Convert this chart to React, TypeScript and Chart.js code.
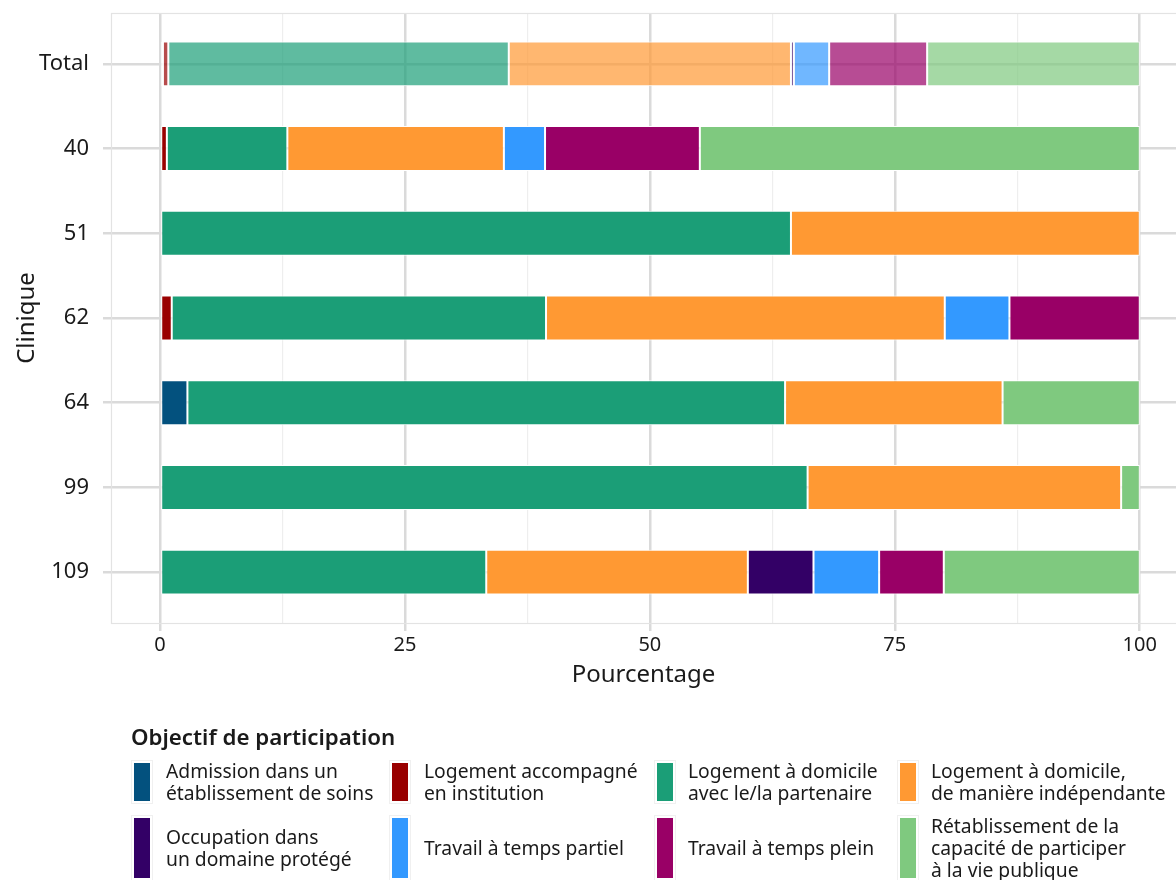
import React, { useEffect, useRef } from "react";
import { Chart, registerables } from "chart.js";

Chart.register(...registerables);

const clinics = ["Total", "40", "51", "62", "64", "99", "109"];

const seriesNames = [
  ["Admission dans un", "établissement de soins"],
  ["Logement accompagné", "en institution"],
  ["Logement à domicile", "avec le/la partenaire"],
  ["Logement à domicile,", "de manière indépendante"],
  ["Occupation dans", "un domaine protégé"],
  ["Travail à temps partiel"],
  ["Travail à temps plein"],
  ["Rétablissement de la", "capacité de participer", "à la vie publique"],
];

const admission = [0.3, 0, 0, 0, 2.8, 0, 0];
const accompagne = [0.55, 0.7, 0, 1.2, 0, 0, 0];
const partenaire = [34.75, 12.3, 64.4, 38.2, 61.0, 66.1, 33.3];
const independante = [28.8, 22.1, 35.6, 40.7, 22.2, 32.0, 26.7];
const occupation = [0.3, 0, 0, 0, 0, 0, 6.7];
const partiel = [3.6, 4.2, 0, 6.6, 0, 0, 6.7];
const plein = [10.0, 15.8, 0, 13.3, 0, 0, 6.6];
const retablissement = [21.7, 44.9, 0, 0, 14.0, 1.9, 20.0];

const seriesValues = [admission, accompagne, partenaire, independante, occupation, partiel, plein, retablissement];

const colors = ["#03517E", "#990000", "#1B9E77", "#FF9933", "#330066", "#3399FF", "#990066", "#7FC97F"];

const majorXTicks = [0, 25, 50, 75, 100];
const minorXTicks = [12.5, 37.5, 62.5, 87.5];

const FONT = "'Noto Sans', 'DejaVu Sans', sans-serif";
const TEXT = "#1a1a1a";

function hexToRgba(hex: string, a: number) {
  const n = parseInt(hex.slice(1), 16);
  return `rgba(${(n >> 16) & 255},${(n >> 8) & 255},${n & 255},${a})`;
}

const panelBorder = {
  id: "panelBorder",
  beforeDatasetsDraw(chart: any) {
    const { ctx, chartArea } = chart;
    ctx.save();
    ctx.strokeStyle = "#E3E3E3";
    ctx.lineWidth = 1.2;
    ctx.strokeRect(chartArea.left + 0.5, chartArea.top + 0.5, chartArea.right - chartArea.left + 20, chartArea.bottom - chartArea.top);
    ctx.restore();
  },
};

export default function App() {
  const ref = useRef<HTMLCanvasElement | null>(null);

  useEffect(() => {
    if (!ref.current) return;
    const datasets = seriesValues.map((vals, s) => ({
      label: seriesNames[s].join(" "),
      data: vals
        .map((v, i) => ({ x: v, y: i }))
        .filter((p) => p.x > 0),
      backgroundColor: (ctx: any) =>
        ctx.raw && ctx.raw.y === 0 ? hexToRgba(colors[s], 0.7) : colors[s],
      borderColor: "#ffffff",
      borderWidth: 1,
      borderSkipped: false as const,
      barPercentage: 0.53,
      categoryPercentage: 1,
    }));

    const chart = new Chart(ref.current, {
      type: "bar",
      data: { datasets },
      plugins: [panelBorder],
      options: {
        animation: false,
        responsive: false,
        indexAxis: "y",
        parsing: { xAxisKey: "x", yAxisKey: "y" } as any,
        layout: { padding: { top: 13, bottom: 190, left: 0, right: 0 } },
        plugins: { legend: { display: false }, tooltip: { enabled: false } },
        scales: {
          x: {
            type: "linear",
            stacked: true,
            offset: false,
            min: -5,
            max: 103.7,
            afterBuildTicks: (scale: any) => {
              scale.ticks = [...majorXTicks, ...minorXTicks].sort((a, b) => a - b).map((v) => ({ value: v }));
            },
            afterFit: (scale: any) => {
              scale.height = 67;
              scale.paddingLeft = 0;
              scale.paddingRight = 0;
            },
            grid: {
              offset: false,
              color: (ctx: any) => (ctx.tick && ctx.tick.value % 25 === 0 ? "#DADADA" : "#EEEEEE"),
              lineWidth: (ctx: any) => (ctx.tick && ctx.tick.value % 25 === 0 ? 2.5 : 1.2),
              tickColor: (ctx: any) => (ctx.tick && ctx.tick.value % 25 === 0 ? "#DADADA" : "rgba(0,0,0,0)"),
              tickLength: 8,
              drawTicks: true,
            },
            border: { display: false },
            ticks: {
              autoSkip: false,
              maxRotation: 0,
              padding: 2,
              color: TEXT,
              font: { family: FONT, size: 20 },
              callback: (v: any) => (majorXTicks.includes(Number(v)) ? String(v) : ""),
            },
            title: {
              display: true,
              text: "Pourcentage",
              color: TEXT,
              font: { family: FONT, size: 24 },
              padding: { top: 0, bottom: 0 },
            },
          },
          y: {
            type: "linear",
            stacked: true,
            reverse: true,
            offset: false,
            min: -0.6,
            max: 6.6,
            afterBuildTicks: (scale: any) => {
              scale.ticks = clinics.map((_, i) => ({ value: i }));
            },
            afterFit: (scale: any) => {
              scale.width = 111;
              scale.paddingTop = 0;
              scale.paddingBottom = 0;
            },
            grid: {
              offset: false,
              color: "#DADADA",
              lineWidth: 2.5,
              tickColor: "#DADADA",
              tickLength: 8,
            },
            border: { display: false },
            ticks: {
              autoSkip: false,
              padding: 14,
              color: TEXT,
              font: { family: FONT, size: 22 },
              callback: (v: any) => clinics[Number(v)] ?? "",
            },
            title: {
              display: true,
              text: "Clinique",
              color: TEXT,
              font: { family: FONT, size: 24 },
              padding: { top: 13, bottom: 0 },
            },
          },
        },
      },
    });
    return () => chart.destroy();
  }, []);

  const keyLeft = [131, 389, 654, 897];
  const textLeft = [166, 424, 688, 931];
  const rowTop = [760, 815];
  const rowHeight = [44, 66];

  return (
    <div style={{ position: "absolute", left: 0, top: 0, width: 1176, height: 880, background: "#fff", overflow: "hidden", fontFamily: FONT, color: TEXT }}>
      <canvas ref={ref} width={1176} height={880} style={{ position: "absolute", left: 0, top: 0, width: 1176, height: 880 }} />
      <div style={{ position: "absolute", left: 131, top: 722, fontSize: 22.3, fontWeight: 600, lineHeight: "30px", whiteSpace: "nowrap" }}>
        Objectif de participation
      </div>
      {seriesNames.map((lines, s) => {
        const r = Math.floor(s / 4);
        const c = s % 4;
        return (
          <React.Fragment key={s}>
            <div
              style={{
                position: "absolute",
                left: keyLeft[c],
                top: rowTop[r],
                width: 22,
                height: rowHeight[r],
                border: "1px solid #F0F0F0",
                boxSizing: "border-box",
                padding: 2,
              }}
            >
              <div style={{ width: "100%", height: "100%", background: colors[s] }} />
            </div>
            <div
              style={{
                position: "absolute",
                left: textLeft[c],
                top: rowTop[r],
                height: rowHeight[r],
                display: "flex",
                flexDirection: "column",
                justifyContent: "center",
                fontSize: 19.3,
                lineHeight: "22px",
                whiteSpace: "nowrap",
              }}
            >
              {lines.map((l, i) => (
                <div key={i}>{l}</div>
              ))}
            </div>
          </React.Fragment>
        );
      })}
    </div>
  );
}
